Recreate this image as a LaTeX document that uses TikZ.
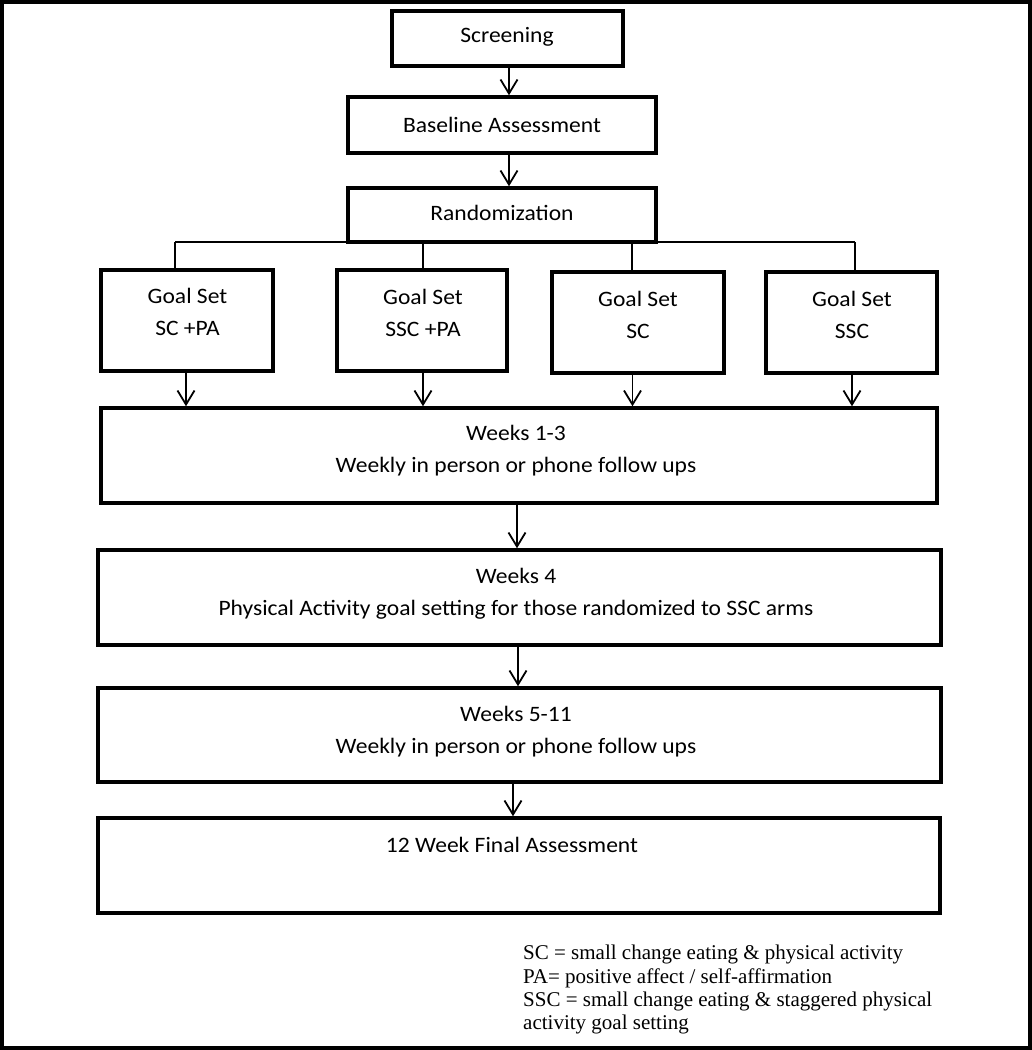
\documentclass[tikz,border=0pt]{standalone}
\usepackage{fontspec}
\setmainfont{Carlito}
\newfontfamily\legendfont{Liberation Serif}
\usetikzlibrary{arrows.meta}
\newcommand{\hw}[1]{\scalebox{1.07}[1]{#1}}
\begin{document}
\begin{tikzpicture}[x=1pt,y=-1pt,
  box/.style={draw, line width=3.5pt, inner sep=0pt},
  txt/.style={font=\fontsize{22}{32}\selectfont, align=center, inner sep=0pt},
  conn/.style={line width=1.8pt},
  arr/.style={conn, -{Straight Barb[length=14pt,width=17pt,line width=1.8pt]}}]
\useasboundingbox (0,0) rectangle (1032,1050);
\node[draw, line width=4pt, inner sep=0pt, minimum width=1028pt, minimum height=1046pt] (frame) at (516,525) {};
% boxes
\node[box, minimum width=231pt, minimum height=55pt] (scr) at (507.5,38.5) {};
\node[box, minimum width=308pt, minimum height=56pt] (base) at (502,125) {};
\node[box, minimum width=308pt, minimum height=54pt] (rand) at (502,215) {};
\node[box, minimum width=172pt, minimum height=101pt] (g1) at (187,320.5) {};
\node[box, minimum width=170pt, minimum height=101pt] (g2) at (422,320.5) {};
\node[box, minimum width=172pt, minimum height=101pt] (g3) at (638,322.5) {};
\node[box, minimum width=171pt, minimum height=101pt] (g4) at (851.5,322.5) {};
\node[box, minimum width=836pt, minimum height=95pt] (w13) at (519,455.5) {};
\node[box, minimum width=843pt, minimum height=95pt] (w4) at (519.5,597.5) {};
\node[box, minimum width=843pt, minimum height=94pt] (w511) at (519.5,735) {};
\node[box, minimum width=842pt, minimum height=95pt] (w12) at (519,865.5) {};
% texts
\node[txt] (tscr) at (507,37) {\hw{Screening}};
\node[txt] (tbase) at (502,125) {\hw{Baseline Assessment}};
\node[txt] (trand) at (502,213) {\hw{Randomization}};
\node[txt] (tg1) at (187.5,312) {\hw{Goal Set}\\\hw{SC +PA}};
\node[txt] (tg2) at (423,313) {\hw{Goal Set}\\\hw{SSC +PA}};
\node[txt] (tg3) at (638,315) {\hw{Goal Set}\\\hw{SC}};
\node[txt] (tg4) at (852,315) {\hw{Goal Set}\\\hw{SSC}};
\node[txt] (tw13) at (516,450.5) {\hw{Weeks 1-3}\\\hw{Weekly in person or phone follow ups}};
\node[txt] (tw4) at (516,594) {\hw{Weeks 4}\\\hw{Physical Activity goal setting for those randomized to SSC arms}};
\node[txt] (tw511) at (516,731.5) {\hw{Weeks 5-11}\\\hw{Weekly in person or phone follow ups}};
\node[txt] (tw12) at (512,845) {\hw{12 Week Final Assessment}};
% legend
\node[anchor=north west, align=left, inner sep=0pt, font=\legendfont\fontsize{21}{23.3}\selectfont] (legend) at (523,945) {SC = small change eating \& physical activity\\
PA= positive affect / self-affirmation\\
SSC = small change eating \& staggered physical\\
activity goal setting};
% connectors
\draw[arr] (scr.south -| 509,0) -- (base.north -| 509,0);
\draw[arr] (base.south -| 509,0) -- (rand.north -| 509,0);
\coordinate (hl) at (175,242);
\coordinate (hr) at (855,242);
\draw[conn] (hl) -- (hr);
\draw[conn] (hl) -- (hl |- g1.north);
\draw[conn] (hl -| 423,0) -- (g2.north -| 423,0);
\draw[conn] (hl -| 632,0) -- (g3.north -| 632,0);
\draw[conn] (hr) -- (hr |- g4.north);
\draw[arr] (g1.south -| 186,0) -- (w13.north -| 186,0);
\draw[arr] (g2.south -| 423,0) -- (w13.north -| 423,0);
\draw[arr] (g3.south -| 632.5,0) -- (w13.north -| 632.5,0);
\draw[arr] (g4.south -| 852,0) -- (w13.north -| 852,0);
\draw[arr] (w13.south -| 517,0) -- (w4.north -| 517,0);
\draw[arr] (w4.south -| 518,0) -- (w511.north -| 518,0);
\draw[arr] (w511.south -| 513,0) -- (w12.north -| 513,0);
\end{tikzpicture}
\end{document}
